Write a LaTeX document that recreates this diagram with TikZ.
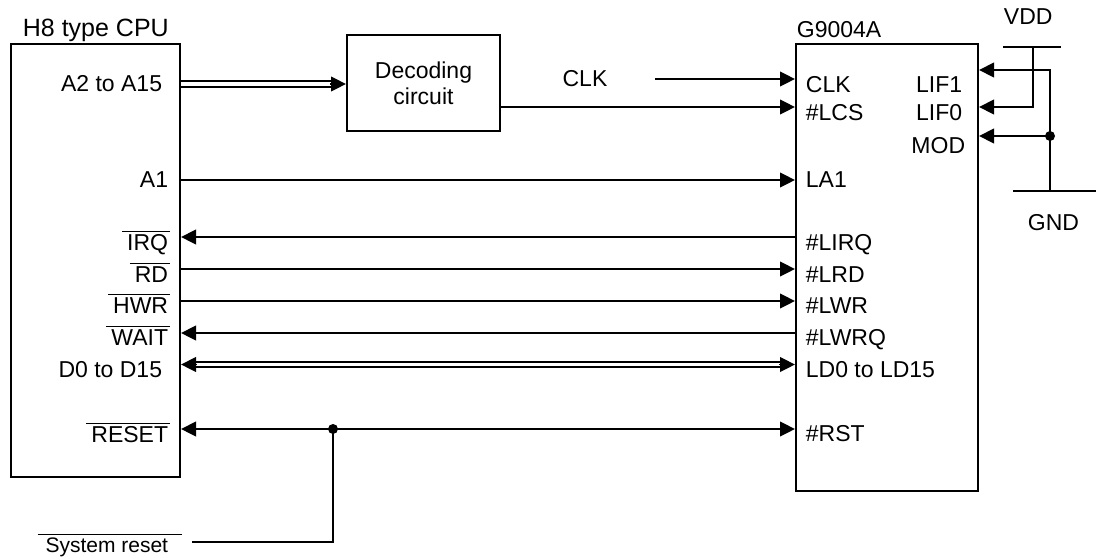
\documentclass[tikz,border=0pt]{standalone}
\usepackage{fontspec}
\setmainfont{Liberation Sans}
\usetikzlibrary{arrows.meta}
\newcommand{\ovl}[1]{$\overline{\mbox{\kern2.5pt#1\kern1pt}}$}

\begin{document}
\begin{tikzpicture}[x=0.5pt, y=-0.5pt, >={Triangle[length=7.5pt,width=7.3pt]}, line width=0.9pt,
    every node/.style={font=\fontsize{11.5}{13}\selectfont, inner sep=0pt}]
    \tikzstyle{chip}=[draw, rectangle, line width=1pt]
    \tikzstyle{pinl}=[anchor=base east]
    \tikzstyle{pinr}=[anchor=base west]
    \tikzstyle{busline}=[line width=0.95pt]
    \useasboundingbox (0,0) rectangle (1097,557);

    % chips
    \node[chip, minimum width=84.5pt, minimum height=216.5pt] (cpu) at (95.5,260.5) {};
    \node[chip, minimum width=76.5pt, minimum height=48pt, align=center] (dec) at (423.5,83) {Decoding\\circuit};
    \node[chip, minimum width=91pt, minimum height=223.5pt] (g) at (887,267.5) {};
    \node[anchor=base west, font=\fontsize{12.5}{14}\selectfont] (cputitle) at (22,36) {H8 type CPU};
    \node[anchor=base west] (gtitle) at (796,37) {G9004A};

    % signal levels
    \coordinate (lvA) at (0,84);
    \coordinate (lvCLK) at (0,79);
    \coordinate (lvLCS) at (0,107);
    \coordinate (lvA1) at (0,180);
    \coordinate (lvIRQ) at (0,237);
    \coordinate (lvRD) at (0,269);
    \coordinate (lvHWR) at (0,301);
    \coordinate (lvWAIT) at (0,333);
    \coordinate (lvD) at (0,364.5);
    \coordinate (lvLIF1) at (0,70);
    \coordinate (lvLIF0) at (0,107);
    \coordinate (lvMOD) at (0,136);

    % CPU pins
    \node[pinl] (pA) at (163,91) {A2 to A15};
    \node[pinl] (pA1) at (169,187) {A1};
    \node[pinl] (pIRQ) at (171,250) {\ovl{IRQ}};
    \node[pinl] (pRD) at (171,282) {\ovl{RD}};
    \node[pinl] (pHWR) at (171,313) {\ovl{HWR}};
    \node[pinl] (pWAIT) at (171,345) {\ovl{WAIT}};
    \node[pinl] (pD) at (163,377) {D0 to D15};
    \node[pinl] (pRESET) at (171,442) {\ovl{RESET}};

    % G9004A pins
    \node[pinr] (gCLK) at (805,92) {CLK};
    \node[pinr] (gLCS) at (805,120) {\#LCS};
    \node[pinr] (gLA1) at (805,187) {LA1};
    \node[pinr] (gLIRQ) at (805,250) {\#LIRQ};
    \node[pinr] (gLRD) at (805,282) {\#LRD};
    \node[pinr] (gLWR) at (805,313) {\#LWR};
    \node[pinr] (gLWRQ) at (805,345) {\#LWRQ};
    \node[pinr] (gLD) at (805,377) {LD0 to LD15};
    \node[pinr] (gRST) at (805,441) {\#RST};
    \node[pinl] (gLIF1) at (963,92) {LIF1};
    \node[pinl] (gLIF0) at (963,120) {LIF0};
    \node[pinl] (gMOD) at (966,153) {MOD};

    % address bus
    \draw[busline, shorten >=6pt] ([yshift=1.35pt]cpu.east |- lvA) -- ([yshift=1.35pt]dec.west |- lvA);
    \draw[busline, shorten >=6pt] ([yshift=-1.35pt]cpu.east |- lvA) -- ([yshift=-1.35pt]dec.west |- lvA);
    \draw[->] ([xshift=-8pt]dec.west |- lvA) -- (dec.west |- lvA);

    % data bus
    \draw[busline, shorten >=6pt, shorten <=6pt] ([yshift=1.35pt]cpu.east |- lvD) -- ([yshift=1.35pt]g.west |- lvD);
    \draw[busline, shorten >=6pt, shorten <=6pt] ([yshift=-1.35pt]cpu.east |- lvD) -- ([yshift=-1.35pt]g.west |- lvD);
    \draw[->] ([xshift=-8pt]g.west |- lvD) -- (g.west |- lvD);
    \draw[->] ([xshift=8pt]cpu.east |- lvD) -- (cpu.east |- lvD);

    % lines
    \node (clklbl) at (585,79) {CLK};
    \coordinate (clkin) at (655,79);
    \draw[->] (clkin) -- (g.west |- lvCLK);
    \draw[->] (dec.east |- lvLCS) -- (g.west |- lvLCS);
    \draw[->] (cpu.east |- lvA1) -- (g.west |- lvA1);
    \draw[->] (g.west |- lvIRQ) -- (cpu.east |- lvIRQ);
    \draw[->] (cpu.east |- lvRD) -- (g.west |- lvRD);
    \draw[->] (cpu.east |- lvHWR) -- (g.west |- lvHWR);
    \draw[->] (g.west |- lvWAIT) -- (cpu.east |- lvWAIT);

    % reset
    \coordinate (rstj) at (333,429);
    \coordinate (sysend) at (192,542);
    \node[pinl, font=\fontsize{10.5}{12}\selectfont] (sysrst) at (183,552) {$\overline{\mbox{\kern4pt System reset\kern7pt}}$};
    \draw[<->] (cpu.east |- rstj) -- (g.west |- rstj);
    \fill (rstj) circle (2.5pt);
    \draw (rstj) |- (sysend);

    % VDD / GND
    \node[anchor=base west] (vdd) at (1003,25) {VDD};
    \node[anchor=base west] (gnd) at (1027,230) {GND};
    \coordinate (vddl) at (1003,47);
    \coordinate (vddr) at (1061,47);
    \coordinate (vddtap) at (1033,47);
    \coordinate (gndl) at (1013,191);
    \coordinate (gndr) at (1096,191);
    \coordinate (gndtap) at (1050,191);
    \draw (vddl) -- (vddr);
    \draw (gndl) -- (gndr);
    \draw[->] (vddtap) |- (g.east |- lvLIF0);
    \draw[->] (gndtap) |- (g.east |- lvLIF1);
    \draw[->] (gndtap |- lvMOD) -- (g.east |- lvMOD);
    \fill (gndtap |- lvMOD) circle (2.5pt);
\end{tikzpicture}
\end{document}
